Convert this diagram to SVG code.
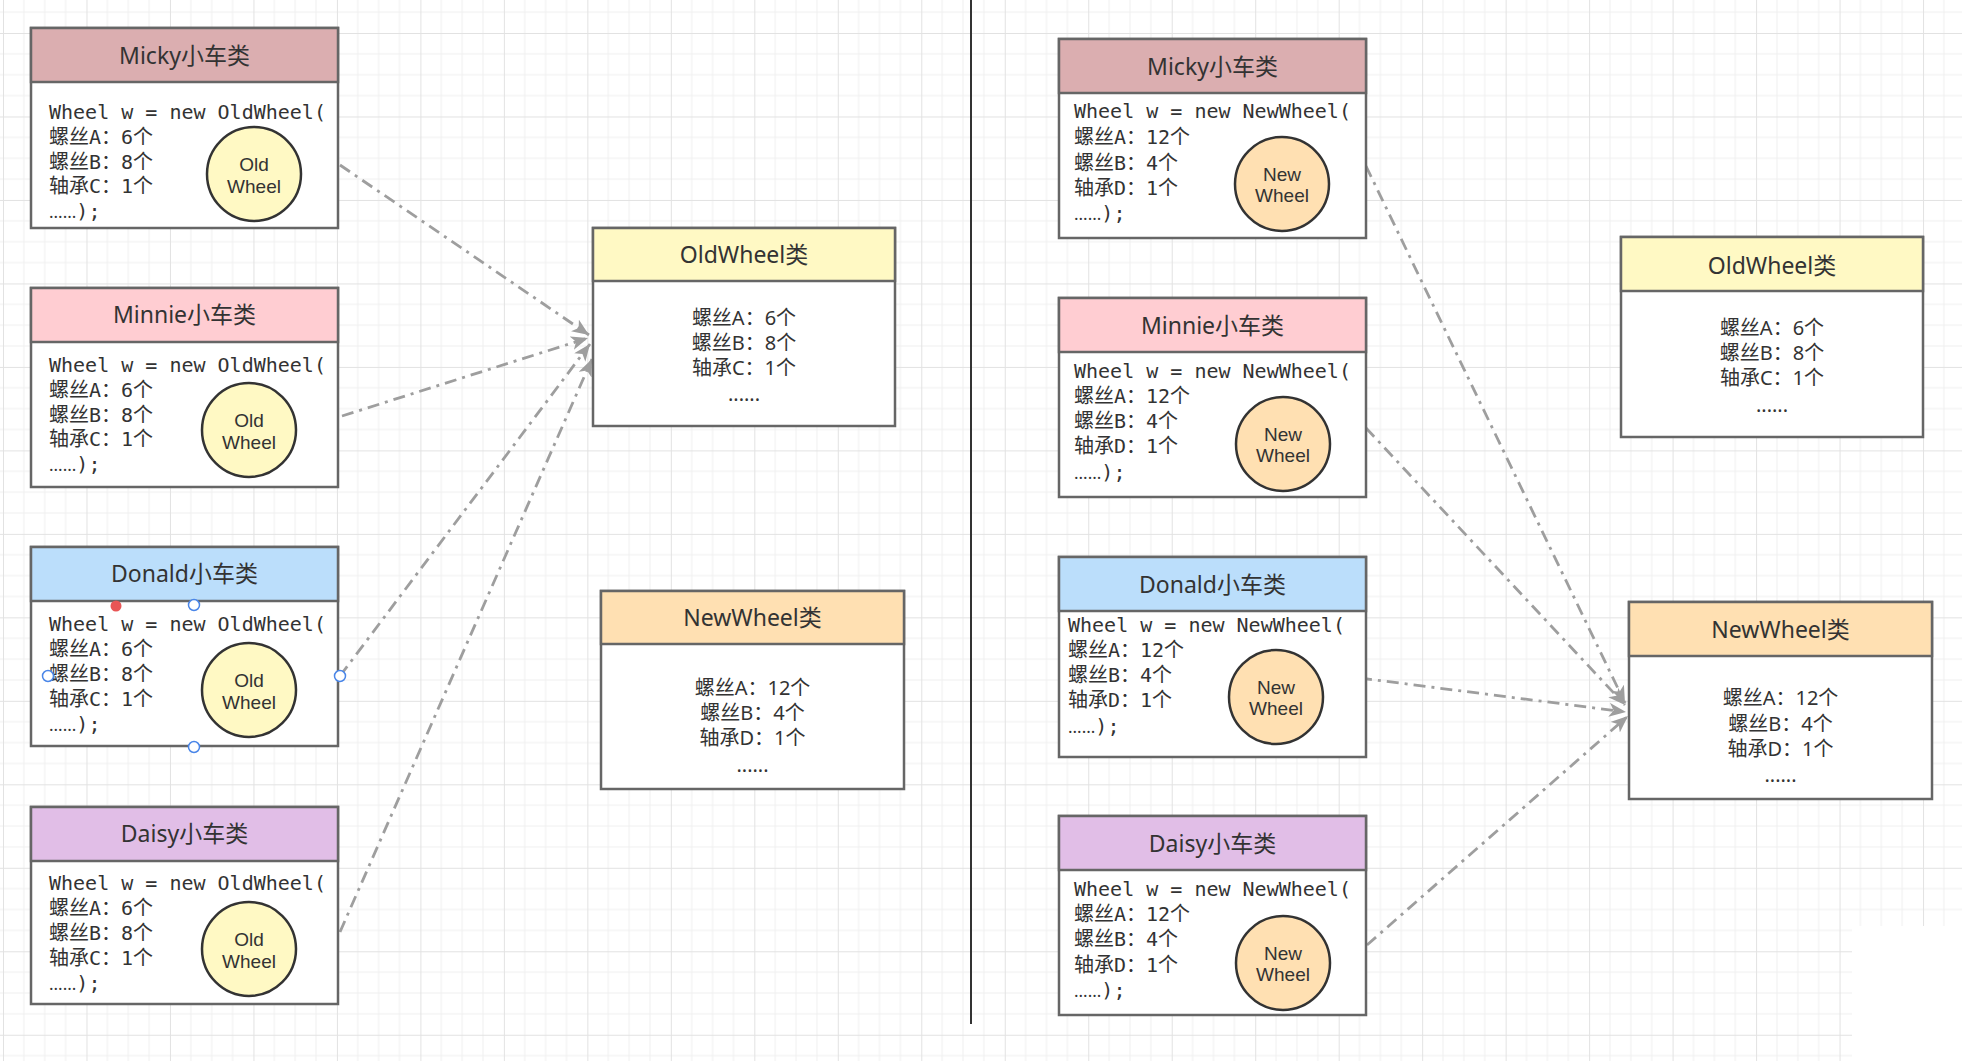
<svg xmlns="http://www.w3.org/2000/svg" width="1962" height="1061" viewBox="0 0 1962 1061">
<style>
.hdr{font-family:"Noto Sans","Noto Sans CJK SC",sans-serif;font-size:23px;fill:#333;text-anchor:middle}
.code{font-family:"DejaVu Sans Mono","Noto Sans CJK SC",monospace;font-size:20px;fill:#333}
.dots{font-family:"Noto Sans",sans-serif;font-size:17px}
.body{font-family:"Noto Sans","Noto Sans CJK SC",sans-serif;font-size:20px;fill:#333;text-anchor:middle}
.wh{font-family:"Liberation Sans",sans-serif;font-size:19px;fill:#333;text-anchor:middle}
.box{fill:#fff;stroke:#666;stroke-width:2.5}
.hbox{stroke:#666;stroke-width:2.5}
.circ{stroke:#333;stroke-width:2.5}
.conn{fill:none;stroke:#9e9e9e;stroke-width:2.8;stroke-dasharray:12 6 3 6}
.old{fill:#fff9c4}
.new{fill:#ffe0b2}
.handle{fill:#fff;stroke:#4a86e8;stroke-width:1.5}
</style>
<defs>
<pattern id="grid" width="83.48" height="83.48" patternUnits="userSpaceOnUse" x="3" y="33">
<path d="M20.87 0V83.48M41.74 0V83.48M62.61 0V83.48M0 20.87H83.48M0 41.74H83.48M0 62.61H83.48" stroke="#f0f0f0" stroke-width="1" fill="none"/>
<path d="M0.5 0V83.48M0 0.5H83.48" stroke="#e2e2e2" stroke-width="1" fill="none"/>
</pattern>
<marker id="arr" markerUnits="userSpaceOnUse" markerWidth="20" markerHeight="16" refX="17" refY="7" orient="auto">
<path d="M0,0 L17,7 L0,14 L4.5,7 Z" fill="#9e9e9e"/>
</marker>
</defs>
<rect width="1962" height="1061" fill="#fff"/>
<rect width="1962" height="1061" fill="url(#grid)"/>
<rect x="1852" y="926" width="110" height="135" fill="#fff"/>
<line x1="971" y1="0" x2="971" y2="1024" stroke="#333" stroke-width="2"/>

<g id="connectors">
<line class="conn" x1="340" y1="165" x2="589" y2="335" marker-end="url(#arr)"/>
<line class="conn" x1="342" y1="416" x2="588" y2="338" marker-end="url(#arr)"/>
<line class="conn" x1="340" y1="676" x2="590" y2="344" marker-end="url(#arr)"/>
<line class="conn" x1="340" y1="932" x2="592" y2="359" marker-end="url(#arr)"/>
<line class="conn" x1="1366" y1="166" x2="1625" y2="703" marker-end="url(#arr)"/>
<line class="conn" x1="1366" y1="428" x2="1625" y2="705" marker-end="url(#arr)"/>
<line class="conn" x1="1360" y1="678" x2="1626" y2="712" marker-end="url(#arr)"/>
<line class="conn" x1="1367" y1="945" x2="1628" y2="716" marker-end="url(#arr)"/>
</g>

<g id="micky-left">
<rect class="box" x="31" y="28" width="307" height="200"/>
<rect class="hbox" x="31" y="28" width="307" height="54" fill="#dbaeb0"/>
<text class="hdr" x="184.5" y="64">Micky小车类</text>
<text class="code" x="49" y="119">Wheel w = new OldWheel(</text>
<text class="code" x="49" y="144">螺丝A：6个</text>
<text class="code" x="49" y="169">螺丝B：8个</text>
<text class="code" x="49" y="193">轴承C：1个</text>
<text class="code" x="49" y="218"><tspan class="dots">......</tspan>);</text>
<circle class="circ old" cx="254" cy="174" r="47"/>
<text class="wh" x="254" y="171">Old</text>
<text class="wh" x="254" y="193">Wheel</text>
</g>

<g id="minnie-left">
<rect class="box" x="31" y="288" width="307" height="199"/>
<rect class="hbox" x="31" y="288" width="307" height="54" fill="#ffcdd2"/>
<text class="hdr" x="184.5" y="323">Minnie小车类</text>
<text class="code" x="49" y="372">Wheel w = new OldWheel(</text>
<text class="code" x="49" y="397">螺丝A：6个</text>
<text class="code" x="49" y="422">螺丝B：8个</text>
<text class="code" x="49" y="446">轴承C：1个</text>
<text class="code" x="49" y="471"><tspan class="dots">......</tspan>);</text>
<circle class="circ old" cx="249" cy="430" r="47"/>
<text class="wh" x="249" y="427">Old</text>
<text class="wh" x="249" y="449">Wheel</text>
</g>

<g id="donald-left">
<rect class="box" x="31" y="547" width="307" height="199"/>
<rect class="hbox" x="31" y="547" width="307" height="54" fill="#bbdefb"/>
<text class="hdr" x="184.5" y="582">Donald小车类</text>
<text class="code" x="49" y="631">Wheel w = new OldWheel(</text>
<text class="code" x="49" y="656">螺丝A：6个</text>
<text class="code" x="49" y="681">螺丝B：8个</text>
<text class="code" x="49" y="706">轴承C：1个</text>
<text class="code" x="49" y="731"><tspan class="dots">......</tspan>);</text>
<circle class="circ old" cx="249" cy="690" r="47"/>
<text class="wh" x="249" y="687">Old</text>
<text class="wh" x="249" y="709">Wheel</text>
<circle cx="116" cy="606" r="5.5" fill="#e85555"/>
<circle class="handle" cx="194" cy="605" r="5.5"/>
<circle class="handle" cx="48" cy="676" r="5.5"/>
<circle class="handle" cx="340" cy="676" r="5.5"/>
<circle class="handle" cx="194" cy="747" r="5.5"/>
</g>

<g id="daisy-left">
<rect class="box" x="31" y="807" width="307" height="197"/>
<rect class="hbox" x="31" y="807" width="307" height="54" fill="#e1bee7"/>
<text class="hdr" x="184.5" y="842">Daisy小车类</text>
<text class="code" x="49" y="890">Wheel w = new OldWheel(</text>
<text class="code" x="49" y="915">螺丝A：6个</text>
<text class="code" x="49" y="940">螺丝B：8个</text>
<text class="code" x="49" y="965">轴承C：1个</text>
<text class="code" x="49" y="990"><tspan class="dots">......</tspan>);</text>
<circle class="circ old" cx="249" cy="949" r="47"/>
<text class="wh" x="249" y="946">Old</text>
<text class="wh" x="249" y="968">Wheel</text>
</g>

<g id="oldwheel-left">
<rect class="box" x="593" y="228" width="302" height="198"/>
<rect class="hbox" x="593" y="228" width="302" height="53" fill="#fff9c4"/>
<text class="hdr" x="744" y="263">OldWheel类</text>
<text class="body" x="744" y="325">螺丝A：6个</text>
<text class="body" x="744" y="350">螺丝B：8个</text>
<text class="body" x="744" y="375">轴承C：1个</text>
<text class="body" x="744" y="401">......</text>
</g>

<g id="newwheel-left">
<rect class="box" x="601" y="591" width="303" height="198"/>
<rect class="hbox" x="601" y="591" width="303" height="53" fill="#ffe0b2"/>
<text class="hdr" x="752.5" y="626">NewWheel类</text>
<text class="body" x="752.5" y="695">螺丝A：12个</text>
<text class="body" x="752.5" y="720">螺丝B：4个</text>
<text class="body" x="752.5" y="745">轴承D：1个</text>
<text class="body" x="752.5" y="772">......</text>
</g>

<g id="micky-right">
<rect class="box" x="1059" y="39" width="307" height="199"/>
<rect class="hbox" x="1059" y="39" width="307" height="54" fill="#dbaeb0"/>
<text class="hdr" x="1212.5" y="75">Micky小车类</text>
<text class="code" x="1074" y="118">Wheel w = new NewWheel(</text>
<text class="code" x="1074" y="144">螺丝A：12个</text>
<text class="code" x="1074" y="170">螺丝B：4个</text>
<text class="code" x="1074" y="195">轴承D：1个</text>
<text class="code" x="1074" y="220"><tspan class="dots">......</tspan>);</text>
<circle class="circ new" cx="1282" cy="184" r="47"/>
<text class="wh" x="1282" y="181">New</text>
<text class="wh" x="1282" y="202">Wheel</text>
</g>

<g id="minnie-right">
<rect class="box" x="1059" y="298" width="307" height="199"/>
<rect class="hbox" x="1059" y="298" width="307" height="54" fill="#ffcdd2"/>
<text class="hdr" x="1212.5" y="334">Minnie小车类</text>
<text class="code" x="1074" y="378">Wheel w = new NewWheel(</text>
<text class="code" x="1074" y="403">螺丝A：12个</text>
<text class="code" x="1074" y="428">螺丝B：4个</text>
<text class="code" x="1074" y="453">轴承D：1个</text>
<text class="code" x="1074" y="479"><tspan class="dots">......</tspan>);</text>
<circle class="circ new" cx="1283" cy="444" r="47"/>
<text class="wh" x="1283" y="441">New</text>
<text class="wh" x="1283" y="462">Wheel</text>
</g>

<g id="donald-right">
<rect class="box" x="1059" y="557" width="307" height="200"/>
<rect class="hbox" x="1059" y="557" width="307" height="54" fill="#bbdefb"/>
<text class="hdr" x="1212.5" y="593">Donald小车类</text>
<text class="code" x="1068" y="632">Wheel w = new NewWheel(</text>
<text class="code" x="1068" y="657">螺丝A：12个</text>
<text class="code" x="1068" y="682">螺丝B：4个</text>
<text class="code" x="1068" y="707">轴承D：1个</text>
<text class="code" x="1068" y="733"><tspan class="dots">......</tspan>);</text>
<circle class="circ new" cx="1276" cy="697" r="47"/>
<text class="wh" x="1276" y="694">New</text>
<text class="wh" x="1276" y="715">Wheel</text>
</g>

<g id="daisy-right">
<rect class="box" x="1059" y="816" width="307" height="199"/>
<rect class="hbox" x="1059" y="816" width="307" height="54" fill="#e1bee7"/>
<text class="hdr" x="1212.5" y="852">Daisy小车类</text>
<text class="code" x="1074" y="896">Wheel w = new NewWheel(</text>
<text class="code" x="1074" y="921">螺丝A：12个</text>
<text class="code" x="1074" y="946">螺丝B：4个</text>
<text class="code" x="1074" y="972">轴承D：1个</text>
<text class="code" x="1074" y="997"><tspan class="dots">......</tspan>);</text>
<circle class="circ new" cx="1283" cy="963" r="47"/>
<text class="wh" x="1283" y="960">New</text>
<text class="wh" x="1283" y="981">Wheel</text>
</g>

<g id="oldwheel-right">
<rect class="box" x="1621" y="237" width="302" height="200"/>
<rect class="hbox" x="1621" y="237" width="302" height="54" fill="#fff9c4"/>
<text class="hdr" x="1772" y="274">OldWheel类</text>
<text class="body" x="1772" y="335">螺丝A：6个</text>
<text class="body" x="1772" y="360">螺丝B：8个</text>
<text class="body" x="1772" y="385">轴承C：1个</text>
<text class="body" x="1772" y="412">......</text>
</g>

<g id="newwheel-right">
<rect class="box" x="1629" y="602" width="303" height="197"/>
<rect class="hbox" x="1629" y="602" width="303" height="54" fill="#ffe0b2"/>
<text class="hdr" x="1780.5" y="638">NewWheel类</text>
<text class="body" x="1780.5" y="705">螺丝A：12个</text>
<text class="body" x="1780.5" y="731">螺丝B：4个</text>
<text class="body" x="1780.5" y="756">轴承D：1个</text>
<text class="body" x="1780.5" y="782">......</text>
</g>
</svg>
